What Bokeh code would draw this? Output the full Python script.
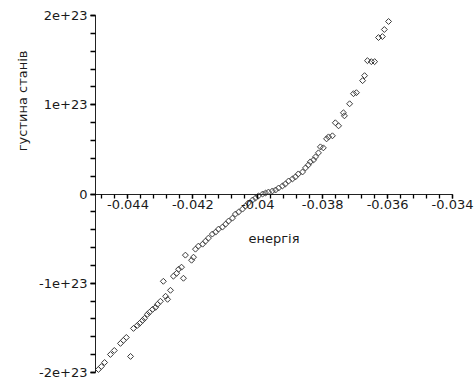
import numpy as np
from bokeh.plotting import figure
from bokeh.models import ColumnDataSource, FixedTicker, Range1d, Title
from bokeh.embed import file_html
from bokeh.resources import INLINE

# energy values
energy = [
    -0.04500, -0.04491, -0.04482, -0.04472, -0.04454, -0.04442, -0.04423, -0.04414,
    -0.04405, -0.04392, -0.04383, -0.04371, -0.04364, -0.04355, -0.04349, -0.04340,
    -0.04334, -0.04324, -0.04315, -0.04309, -0.04300, -0.04291, -0.04284, -0.04278,
    -0.04269, -0.04260, -0.04250, -0.04244, -0.04235, -0.04229, -0.04223, -0.04204,
    -0.04198, -0.04192, -0.04183, -0.04170, -0.04161, -0.04152, -0.04140, -0.04130,
    -0.04121, -0.04109, -0.04099, -0.04090, -0.04078, -0.04069, -0.04059, -0.04047,
    -0.04038, -0.04029, -0.04016, -0.04007, -0.03998, -0.03985, -0.03976, -0.03967,
    -0.03955, -0.03945, -0.03936, -0.03924, -0.03915, -0.03905, -0.03893, -0.03884,
    -0.03875, -0.03862, -0.03853, -0.03844, -0.03838, -0.03828, -0.03822, -0.03813,
    -0.03807, -0.03798, -0.03788, -0.03782, -0.03770, -0.03761, -0.03751, -0.03736,
    -0.03733, -0.03717, -0.03705, -0.03696, -0.03677, -0.03671, -0.03662, -0.03650,
    -0.03640, -0.03628, -0.03616, -0.03610, -0.03597,
]

# density of states, in units of 1e23
density_e23 = [
    -2.000, -1.966, -1.933, -1.888, -1.798, -1.753, -1.674, -1.640,
    -1.607, -1.820, -1.506, -1.472, -1.449, -1.416, -1.393, -1.348,
    -1.326, -1.292, -1.270, -1.236, -1.202, -0.978, -1.146, -1.180,
    -1.079, -0.921, -0.888, -0.843, -0.820, -0.944, -0.685, -0.742,
    -0.708, -0.618, -0.584, -0.562, -0.528, -0.494, -0.449, -0.427,
    -0.393, -0.371, -0.337, -0.303, -0.270, -0.225, -0.202, -0.169,
    -0.135, -0.101, -0.067, -0.045, -0.022, 0.000, 0.011, 0.022,
    0.034, 0.045, 0.067, 0.090, 0.112, 0.146, 0.169, 0.191,
    0.225, 0.247, 0.292, 0.326, 0.360, 0.382, 0.416, 0.461,
    0.528, 0.517, 0.618, 0.640, 0.652, 0.798, 0.764, 0.910,
    0.876, 1.011, 1.124, 1.135, 1.270, 1.326, 1.494, 1.483,
    1.483, 1.753, 1.764, 1.843, 1.933,
]

x_ticks = [-0.044, -0.042, -0.040, -0.038, -0.036, -0.034]
x_tick_labels = ["-0.044", "-0.042", "-0.04", "-0.038", "-0.036", "-0.034"]
y_ticks = [-2e23, -1e23, 0.0, 1e23, 2e23]
y_tick_labels = ["-2e+23", "-1e+23", "0", "1e+23", "2e+23"]

x_label = "енергія"
y_label = "густина станів"

density = [v * 1e23 for v in density_e23]
source = ColumnDataSource(data=dict(x=energy, y=density))

FONT = "DejaVu Sans"
TXT = "#1a1a1a"
AX = "#222222"

X0, X1 = -0.045, -0.034
px_per_unit = 357.0 / (X1 - X0)
x_end = X1 + 23.0 / px_per_unit   # room on the right for the last tick label

p = figure(
    width=475, height=385,
    output_backend="svg", toolbar_location=None,
    x_range=Range1d(X0, x_end), y_range=Range1d(-2e23, 2e23),
    min_border_left=95, min_border_right=0, min_border_top=15, min_border_bottom=13,
)
p.outline_line_color = None
p.grid.visible = False
p.background_fill_color = "white"
p.border_fill_color = "white"

p.scatter(
    "x", "y", source=source, marker="square", angle=np.pi / 4, size=4.2,
    fill_color=None, line_color="#3a3a3a", line_width=1,
)

# x axis crossing at y = 0
x_minor = [float(v) for v in np.round(np.arange(-0.0448, -0.0339, 0.0004), 6)]
p.xaxis.ticker = FixedTicker(ticks=x_ticks, minor_ticks=x_minor)
p.xaxis.major_label_overrides = {t: l for t, l in zip(x_ticks, x_tick_labels)}
p.xaxis.fixed_location = 0
p.xaxis.bounds = (X0, X1)
p.xaxis.axis_label = x_label

y_minor = [float(v) * 1e23 for v in np.round(np.arange(-2.0, 2.01, 0.2), 2)]
p.yaxis.ticker = FixedTicker(ticks=y_ticks, minor_ticks=y_minor)
p.yaxis.major_label_overrides = {t: l for t, l in zip(y_ticks, y_tick_labels)}

for ax in (p.xaxis[0], p.yaxis[0]):
    ax.axis_line_color = AX
    ax.axis_line_width = 1
    ax.major_tick_line_color = "black"
    ax.minor_tick_line_color = "black"
    ax.major_tick_line_width = 1.3
    ax.minor_tick_line_width = 1.3
    ax.major_tick_in = 0
    ax.minor_tick_in = 0
    ax.major_label_text_font = FONT
    ax.major_label_text_font_size = "13px"
    ax.major_label_text_color = TXT
    ax.axis_label_text_font = FONT
    ax.axis_label_text_font_size = "13px"
    ax.axis_label_text_font_style = "normal"
    ax.axis_label_text_color = TXT

p.xaxis.major_tick_out = 4
p.xaxis.minor_tick_out = 4
p.xaxis.major_label_standoff = 2
p.xaxis.axis_label_standoff = 18

p.yaxis.major_tick_out = 5
p.yaxis.minor_tick_out = 5
p.yaxis.major_label_standoff = 3

p.add_layout(Title(text=y_label, align="right", offset=35, standoff=14,
                   text_font=FONT, text_font_size="13px",
                   text_font_style="normal", text_color=TXT), "left")

open("out.html", "w").write(file_html(p, INLINE))
